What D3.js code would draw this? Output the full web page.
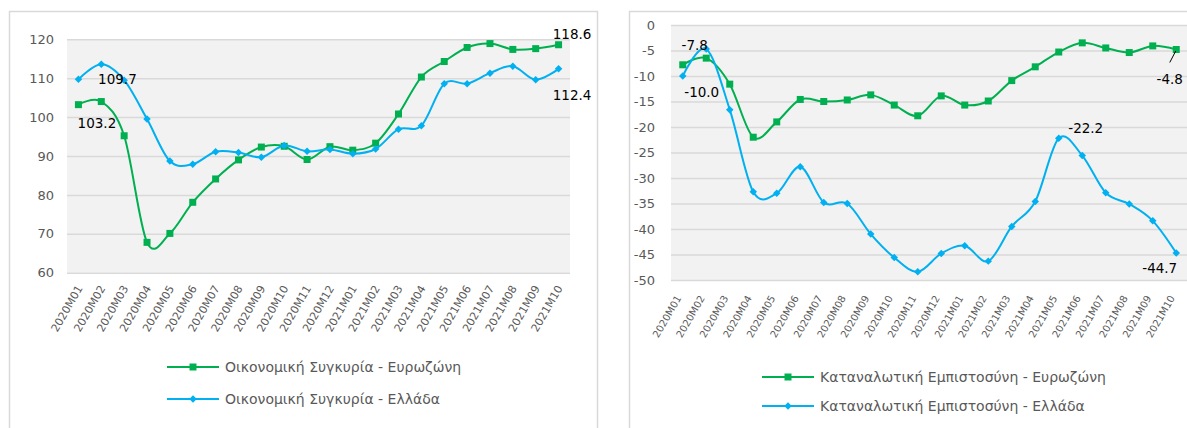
<!DOCTYPE html>
<html lang="el">
<head>
<meta charset="UTF-8">
<script src="https://cdn.jsdelivr.net/npm/d3@7"></script>
<style>
    body { margin: 0; background: #fff; }
    svg text { font-family: "DejaVu Sans", sans-serif; }
    .grid line { stroke: #d9d9d9; stroke-width: 1.5; }
    .grid text { fill: #595959; font-size: 13px; }
    .xaxis text { fill: #595959; }
    .legend text { fill: #595959; font-size: 14px; }
    .dlabel { fill: #000; font-size: 13.5px; }
</style>
</head>
<body>
<svg id="chart" width="1187" height="428"></svg>
<script>
    // data
    const months = ["2020M01", "2020M02", "2020M03", "2020M04", "2020M05", "2020M06", "2020M07",
        "2020M08", "2020M09", "2020M10", "2020M11", "2020M12", "2021M01", "2021M02", "2021M03",
        "2021M04", "2021M05", "2021M06", "2021M07", "2021M08", "2021M09", "2021M10"];

    const esiEuro = [103.2, 104.0, 95.2, 67.8, 70.1, 78.1, 84.1, 89.0, 92.3, 92.5, 89.1,
        92.4, 91.5, 93.3, 100.8, 110.3, 114.3, 117.9, 118.9, 117.4, 117.6, 118.6];
    const esiGreece = [109.7, 113.6, 109.5, 99.5, 88.7, 87.9, 91.1, 90.9, 89.7, 92.7, 91.2,
        91.7, 90.6, 91.8, 96.9, 97.8, 108.6, 108.6, 111.3, 113.1, 109.6, 112.4];

    const cciEuro = [-7.8, -6.5, -11.6, -22.0, -19.0, -14.6, -15.0, -14.7, -13.7, -15.7, -17.8,
        -13.9, -15.7, -14.9, -10.9, -8.2, -5.3, -3.5, -4.5, -5.4, -4.1, -4.8];
    const cciGreece = [-10.0, -4.7, -16.6, -32.7, -33.0, -27.8, -34.8, -35.0, -41.0, -45.6, -48.4,
        -44.8, -43.3, -46.3, -39.5, -34.6, -22.2, -25.6, -32.9, -35.1, -38.4, -44.7];

    const esiTicks = [60, 70, 80, 90, 100, 110, 120];
    const cciTicks = [0, -5, -10, -15, -20, -25, -30, -35, -40, -45, -50];

    const esiNames = ["Οικονομική Συγκυρία - Ευρωζώνη", "Οικονομική Συγκυρία - Ελλάδα"];
    const cciNames = ["Καταναλωτική Εμπιστοσύνη - Ευρωζώνη", "Καταναλωτική Εμπιστοσύνη - Ελλάδα"];

    const green = "#00b050", blue = "#00b0f0";

    const svg = d3.select("#chart");
    // plain hyphen for negatives, like excel
    const locale = d3.formatLocale({ decimal: ".", thousands: ",", grouping: [3], currency: ["", ""], minus: "-" });
    const fmt = locale.format(".1f");
    const fmtTick = locale.format("d");

    const drawPanel = cfg => {
        const g = svg.append("g");

        // outer frame
        g.append("rect")
            .attr("x", cfg.frame[0]).attr("y", cfg.frame[1])
            .attr("width", cfg.frame[2]).attr("height", cfg.frame[3])
            .attr("fill", "none").attr("stroke", "#d9d9d9").attr("stroke-width", 1.5);

        const x = d3.scaleBand().domain(months).range([cfg.left, cfg.right]);
        const y = d3.scaleLinear().domain(cfg.domain).range([cfg.bottom, cfg.top]);
        const cx = d => x(d) + x.bandwidth() / 2;

        g.append("rect")
            .attr("x", cfg.left).attr("y", cfg.top)
            .attr("width", cfg.right - cfg.left).attr("height", cfg.bottom - cfg.top)
            .attr("fill", "#f2f2f2");

        g.append("g")
            .attr("class", "grid")
            .attr("transform", `translate(${cfg.left},0)`)
            .call(d3.axisLeft(y).tickValues(cfg.ticks).tickSize(-(cfg.right - cfg.left))
                .tickPadding(cfg.yPad).tickFormat(fmtTick))
            .call(a => a.select(".domain").remove());

        g.append("g")
            .attr("class", "xaxis")
            .attr("transform", `translate(0,${cfg.bottom})`)
            .call(d3.axisBottom(x).tickSize(0))
            .call(a => a.select(".domain").remove())
            .selectAll("text")
            .attr("x", 0).attr("y", 0).attr("dy", 0)
            .style("font-size", cfg.xFont + "px")
            .attr("text-anchor", "end")
            .attr("transform", `translate(${cfg.xOff[0]},${cfg.xOff[1]}) rotate(-60)`);

        const line = d3.line()
            .x((d, i) => cx(months[i]))
            .y(d => y(d))
            .curve(d3.curveCardinal.tension(0));

        const square = d3.symbol(d3.symbolSquare, 49);
        const diamond = d3.symbol(d3.symbolSquare, 28);

        const series = [
            { values: cfg.series[0], color: green, mark: square, rot: 0 },
            { values: cfg.series[1], color: blue, mark: diamond, rot: 45 }
        ];

        series.forEach(s => {
            g.append("path")
                .attr("d", line(s.values))
                .attr("fill", "none")
                .attr("stroke", s.color)
                .attr("stroke-width", 2);
            g.selectAll(null).data(s.values).join("path")
                .attr("d", s.mark)
                .attr("fill", s.color)
                .attr("transform", (d, i) => `translate(${cx(months[i])},${y(d)}) rotate(${s.rot})`);
        });

        // data labels
        cfg.labels.forEach(l => {
            const v = cfg.series[l.s][l.i];
            const px = cx(months[l.i]), py = y(v);
            if (l.lead) {
                g.append("line")
                    .attr("x1", px + l.lead[0]).attr("y1", py + l.lead[1])
                    .attr("x2", px + l.lead[2]).attr("y2", py + l.lead[3])
                    .attr("stroke", "#000").attr("stroke-width", 1);
            }
            g.append("text")
                .attr("class", "dlabel")
                .attr("x", px + l.dx).attr("y", py + l.dy)
                .attr("dy", "0.36em")
                .attr("text-anchor", "middle")
                .text(fmt(v));
        });

        // legend
        const lg = g.append("g").attr("class", "legend");
        series.forEach((s, k) => {
            const ly = cfg.legend.y[k];
            lg.append("line")
                .attr("x1", cfg.legend.x).attr("x2", cfg.legend.x + 52)
                .attr("y1", ly).attr("y2", ly)
                .attr("stroke", s.color).attr("stroke-width", 2);
            lg.append("path")
                .attr("d", s.mark)
                .attr("fill", s.color)
                .attr("transform", `translate(${cfg.legend.x + 26},${ly}) rotate(${s.rot})`);
            lg.append("text")
                .attr("x", cfg.legend.x + 58).attr("y", ly)
                .attr("dy", "0.36em")
                .text(cfg.names[k]);
        });
    };

    drawPanel({
        frame: [9.5, 11.5, 588, 430],
        left: 67, right: 570, top: 39.3, bottom: 272.7,
        domain: [60, 120], ticks: esiTicks, yPad: 13,
        xFont: 11, xOff: [4.5, 15.5],
        series: [esiEuro, esiGreece], names: esiNames,
        labels: [
            { s: 0, i: 0, dx: 18.5, dy: 18 },
            { s: 1, i: 0, dx: 39, dy: 0 },
            { s: 0, i: 21, dx: 13.5, dy: -11 },
            { s: 1, i: 21, dx: 13.5, dy: 26 }
        ],
        legend: { x: 167, y: [367, 399] }
    });

    drawPanel({
        frame: [629.5, 11.5, 620, 430],
        left: 671, right: 1188, top: 25, bottom: 280,
        domain: [-50, 0], ticks: cciTicks, yPad: 16,
        xFont: 10, xOff: [-1, 18],
        series: [cciEuro, cciGreece], names: cciNames,
        labels: [
            { s: 0, i: 0, dx: 12, dy: -20 },
            { s: 1, i: 0, dx: 19, dy: 16 },
            { s: 1, i: 16, dx: 27, dy: -10 },
            { s: 0, i: 21, dx: -6.5, dy: 29.5, lead: [-6.5, 13, -0.5, 1.5] },
            { s: 1, i: 21, dx: -16.5, dy: 15 }
        ],
        legend: { x: 762, y: [377, 406] }
    });
</script>
</body>
</html>
